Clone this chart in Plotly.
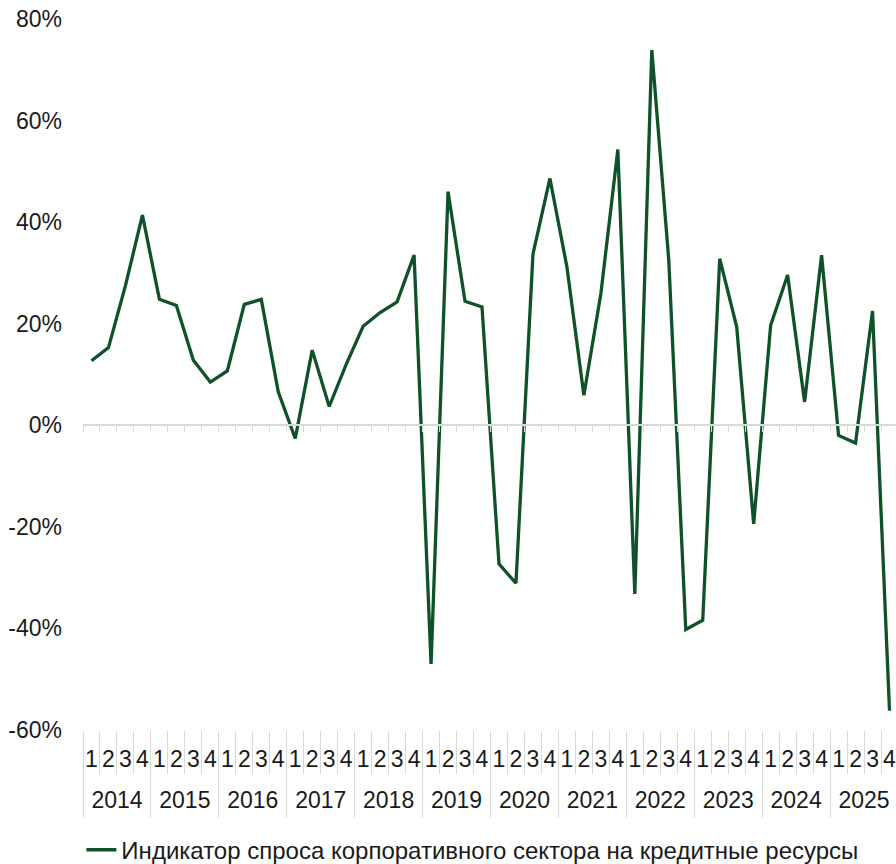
import plotly.graph_objects as go

years = ["2014", "2015", "2016", "2017", "2018", "2019",
         "2020", "2021", "2022", "2023", "2024", "2025"]
quarters = ["1", "2", "3", "4"]

values = [12.7, 15.3, 27.5, 41.4,
          24.8, 23.6, 12.8, 8.5,
          10.7, 23.8, 24.8, 6.6,
          -2.6, 14.8, 3.7, 12.0,
          19.5, 22.2, 24.3, 33.5,
          -47.0, 46.0, 24.4, 23.3,
          -27.3, -31.1, 33.7, 48.6,
          31.2, 5.9, 25.9, 54.3,
          -33.2, 73.9, 32.5, -40.2,
          -38.4, 32.8, 19.4, -19.4,
          19.7, 29.6, 4.6, 33.5,
          -2.0, -3.5, 22.5, -56.2]

y_tickvals = [-60, -40, -20, 0, 20, 40, 60, 80]
y_ticktext = ["-60%", "-40%", "-20%", "0%", "20%", "40%", "60%", "80%"]

series_name = "Индикатор спроса корпоративного сектора на кредитные ресурсы"

n = len(values)
nq = len(quarters)
idx = list(range(n))
q_text = [q for _ in years for q in quarters]
year_centers = [i * nq + (nq - 1) / 2 for i in range(len(years))]
q_bounds = [i - 0.5 for i in range(n + 1)]
y_bounds = [i * nq - 0.5 for i in range(len(years) + 1)]

GREEN = "#0f5128"
GRAY = "#d9d9d9"
TXT = "#1a1a1a"
FONT = "Liberation Sans, Arial, sans-serif"

fig = go.Figure()
fig.add_trace(go.Scatter(
    x=idx, y=values, mode="lines", name=series_name,
    line=dict(color=GREEN, width=3.3),
    cliponaxis=False,
))
# helper traces so the overlay axes are drawn
fig.add_trace(go.Scatter(x=[None], y=[None], xaxis="x2", showlegend=False,
                         hoverinfo="skip"))
fig.add_trace(go.Scatter(x=[None], y=[None], xaxis="x3", showlegend=False,
                         hoverinfo="skip"))

xr = [-0.5, n - 0.5 - 2 / 17]
fig.update_layout(
    width=896, height=864,
    margin=dict(l=83, r=0, t=19, b=134, autoexpand=False),
    paper_bgcolor="white", plot_bgcolor="white",
    font=dict(family=FONT, size=23, color=TXT),
    xaxis=dict(
        range=xr, showgrid=False, zeroline=False, showline=False,
        tickmode="array", tickvals=idx, ticktext=q_text, ticks="",
        tickangle=0, ticklabelstandoff=13, ticklabeloverflow="allow",
        tickfont=dict(size=23, color=TXT),
        minor=dict(tickmode="array", tickvals=q_bounds, ticks="outside",
                   ticklen=43, tickcolor=GRAY, tickwidth=1, showgrid=False),
    ),
    xaxis2=dict(
        overlaying="x", anchor="free", position=60 / 140,
        range=xr, showgrid=False, zeroline=False,
        showline=True, linecolor=GRAY, linewidth=1.5,
        ticks="outside", ticklen=6, tickcolor=GRAY, tickwidth=1,
        tickvals=q_bounds, showticklabels=False,
    ),
    xaxis3=dict(
        overlaying="x", anchor="y", side="bottom",
        range=xr, showgrid=False, zeroline=False, showline=False,
        tickmode="array", tickvals=year_centers, ticktext=years, ticks="",
        tickangle=0, ticklabelstandoff=54, ticklabeloverflow="allow",
        tickfont=dict(size=23, color=TXT),
        minor=dict(tickmode="array", tickvals=y_bounds, ticks="outside",
                   ticklen=87, tickcolor=GRAY, tickwidth=1, showgrid=False),
    ),
    yaxis=dict(
        range=[-60, 80], tickvals=y_tickvals, ticktext=y_ticktext,
        showgrid=False, zeroline=False, showline=False, ticks="",
        ticklabelstandoff=20, ticklabeloverflow="allow",
        tickfont=dict(size=23, color=TXT),
    ),
    showlegend=True,
    legend=dict(orientation="h", x=-0.002, xanchor="left",
                y=-0.169, yanchor="middle",
                font=dict(size=24, color=TXT),
                bgcolor="rgba(0,0,0,0)"),
)

fig.write_html(
    "out.html",
    config={"displayModeBar": False},
    post_script="document.body.style.margin='0';",
)
